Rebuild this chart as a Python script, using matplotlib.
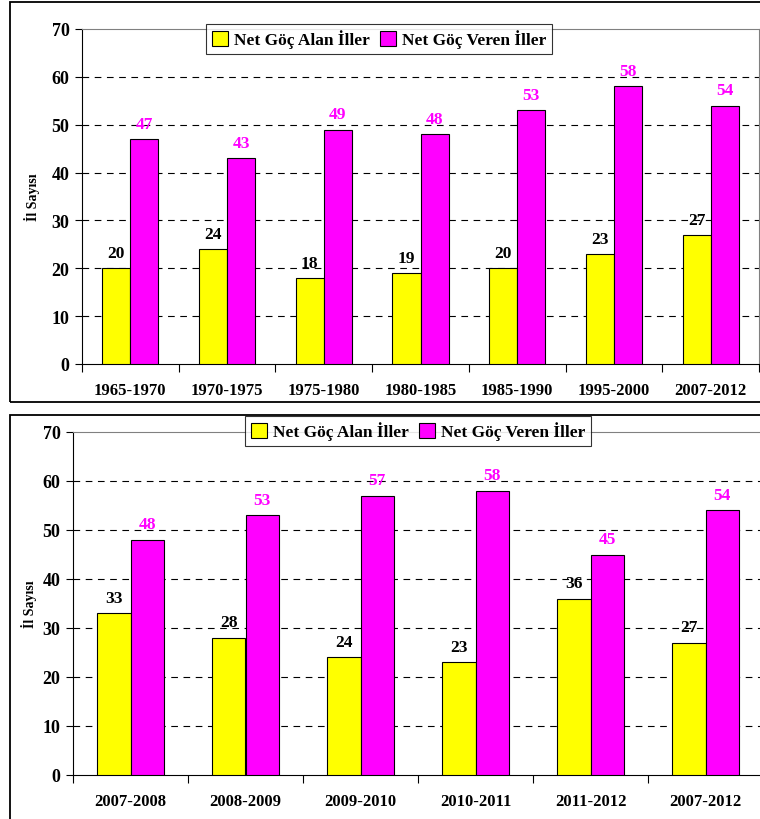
import numpy as np
import matplotlib.pyplot as plt
from matplotlib.patches import Rectangle

plt.rcParams['font.family'] = ['Liberation Serif', 'DejaVu Serif']
plt.rcParams['font.weight'] = 'bold'

# Data
periods_top = ["1965-1970", "1970-1975", "1975-1980", "1980-1985", "1985-1990", "1995-2000", "2007-2012"]
alan_top = [20, 24, 18, 19, 20, 23, 27]
veren_top = [47, 43, 49, 48, 53, 58, 54]

periods_bottom = ["2007-2008", "2008-2009", "2009-2010", "2010-2011", "2011-2012", "2007-2012"]
alan_bottom = [33, 28, 24, 23, 36, 27]
veren_bottom = [48, 53, 57, 58, 45, 54]

label_alan = "Net Göç Alan İller"
label_veren = "Net Göç Veren İller"
ylabel = "İl Sayısı"

YELLOW = "#FFFF00"
MAGENTA = "#FF00FF"

W, H = 760, 820
fig = plt.figure(figsize=(W / 100, H / 100), dpi=100)


def px_axes(left, right, top, bottom):
    return fig.add_axes([left / W, 1 - bottom / H, (right - left) / W, (bottom - top) / H])


def frame(left, top, right, bottom):
    fig.patches.append(Rectangle((left / W, 1 - bottom / H), (right - left) / W, (bottom - top) / H,
                                 transform=fig.transFigure, fill=False, edgecolor="black", linewidth=1.3))


def panel(ax, cats, alan, veren, legend_center):
    n = len(cats)
    x = np.arange(n)
    w = 0.29
    ax.bar(x - w / 2, alan, w, color=YELLOW, edgecolor="black", linewidth=0.8, label=label_alan, zorder=3)
    ax.bar(x + w / 2, veren, w, color=MAGENTA, edgecolor="black", linewidth=0.8, label=label_veren, zorder=3)
    for i in range(n):
        ax.text(x[i] - w / 2, alan[i] + 1.5, str(alan[i]), ha="center", va="bottom",
                fontsize=12.5, fontweight="bold", color="black", zorder=4)
        ax.text(x[i] + w / 2, veren[i] + 1.5, str(veren[i]), ha="center", va="bottom",
                fontsize=12.5, fontweight="bold", color=MAGENTA, zorder=4)
    ax.set_xlim(-0.5, n - 0.5)
    ax.set_ylim(0, 70)
    ax.set_yticks(range(0, 71, 10))
    ax.tick_params(axis="y", labelsize=13, length=5, direction="out", pad=4)
    ax.set_xticks(np.arange(-0.5, n, 1))
    ax.set_xticklabels([])
    ax.set_xticks(x, minor=True)
    ax.set_xticklabels(cats, minor=True, fontsize=12, fontweight="bold")
    ax.tick_params(axis="x", which="major", length=6, direction="out")
    ax.tick_params(axis="x", which="minor", length=0, pad=13)
    for yv in range(10, 61, 10):
        ax.axhline(yv, color="black", linestyle=(0, (6, 5)), linewidth=0.8, zorder=1)
    ax.spines["top"].set_color("#808080")
    ax.spines["right"].set_color("#808080")
    ax.spines["left"].set_color("black")
    ax.spines["bottom"].set_color("black")
    ax.set_ylabel(ylabel, fontsize=10, fontweight="bold")
    for t in ax.get_yticklabels():
        t.set_fontweight("bold")
    leg = ax.legend(loc="center", bbox_to_anchor=legend_center, bbox_transform=fig.transFigure,
                    ncol=2, frameon=True, fancybox=False, handlelength=0.9, handleheight=0.9,
                    handletextpad=0.35, columnspacing=0.6, borderpad=0.35, prop={"weight": "bold", "size": 12.5})
    leg.get_frame().set_edgecolor("black")
    leg.get_frame().set_linewidth(0.8)
    leg.set_zorder(5)


frame(10, 3, 775, 403)
frame(10, 416, 775, 835)

ax1 = px_axes(82, 759, 30, 365)
panel(ax1, periods_top, alan_top, veren_top, (379 / W, 1 - 40 / H))
ax1.yaxis.set_label_coords(-0.062, 0.5)

ax2 = px_axes(73, 763, 433, 776)
panel(ax2, periods_bottom, alan_bottom, veren_bottom, (418 / W, 1 - 432 / H))
ax2.yaxis.set_label_coords(-0.052, 0.5)

fig.savefig("out.png", dpi=100)
